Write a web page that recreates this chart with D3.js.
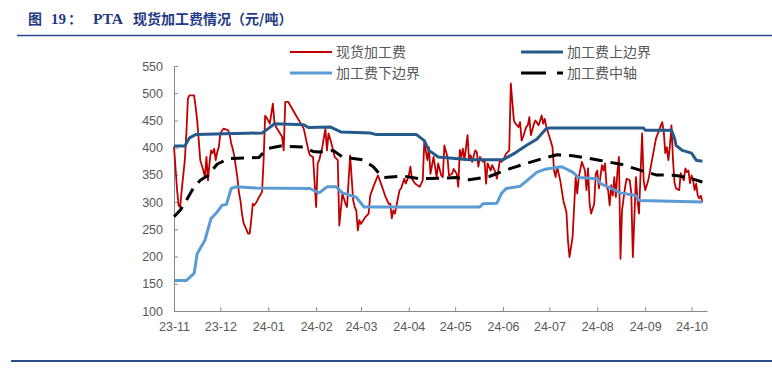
<!DOCTYPE html>
<html>
<head>
<meta charset="utf-8">
<script src="https://cdn.jsdelivr.net/npm/d3@7"></script>
<style>
  body { margin: 0; background: #fff; }
  svg { display: block; }
</style>
</head>
<body>
<div id="chart"></div>
<script>
// series names, same order as the legend
const seriesNames = ["现货加工费", "加工费上边界", "加工费下边界", "加工费中轴"];

// spot processing fee (yuan/ton)
const spotDates = ["2023-11-01","2023-11-03","2023-11-04","2023-11-05","2023-11-06","2023-11-08","2023-11-09","2023-11-10","2023-11-11","2023-11-14","2023-11-15","2023-11-16","2023-11-17","2023-11-18","2023-11-20","2023-11-21","2023-11-22","2023-11-23","2023-11-24","2023-11-25","2023-11-26","2023-11-27","2023-11-28","2023-11-29","2023-11-30",
  "2023-12-01","2023-12-03","2023-12-05","2023-12-06","2023-12-07","2023-12-08","2023-12-09","2023-12-10","2023-12-11","2023-12-12","2023-12-13","2023-12-14","2023-12-15","2023-12-16","2023-12-19","2023-12-20","2023-12-21","2023-12-22","2023-12-23","2023-12-25","2023-12-26","2023-12-28","2023-12-29","2023-12-30",
  "2024-01-01","2024-01-02","2024-01-04","2024-01-05","2024-01-06","2024-01-10","2024-01-11","2024-01-12","2024-01-14","2024-01-19","2024-01-24","2024-01-27","2024-01-28","2024-01-30",
  "2024-02-01","2024-02-02","2024-02-03","2024-02-05","2024-02-07","2024-02-08","2024-02-09","2024-02-11","2024-02-13","2024-02-15","2024-02-16","2024-02-18","2024-02-20","2024-02-21","2024-02-23","2024-02-25","2024-02-26","2024-02-27","2024-02-28","2024-02-29",
  "2024-03-01","2024-03-04","2024-03-06","2024-03-07","2024-03-09","2024-03-12","2024-03-14","2024-03-17","2024-03-19","2024-03-20","2024-03-21","2024-03-22","2024-03-23","2024-03-26","2024-03-27","2024-03-29","2024-03-30",
  "2024-04-01","2024-04-02","2024-04-03","2024-04-05","2024-04-08","2024-04-10","2024-04-11","2024-04-13","2024-04-14","2024-04-15","2024-04-17","2024-04-19","2024-04-20","2024-04-22","2024-04-23","2024-04-24","2024-04-26","2024-04-27","2024-04-29","2024-04-30",
  "2024-05-02","2024-05-03","2024-05-04","2024-05-05","2024-05-06","2024-05-07","2024-05-09","2024-05-10","2024-05-11","2024-05-12","2024-05-14","2024-05-15","2024-05-16","2024-05-17","2024-05-19","2024-05-20","2024-05-21","2024-05-22","2024-05-24","2024-05-25","2024-05-27","2024-05-28","2024-05-30","2024-05-31",
  "2024-06-01","2024-06-03","2024-06-05","2024-06-06","2024-06-08","2024-06-09","2024-06-11","2024-06-12","2024-06-13","2024-06-14","2024-06-16","2024-06-17","2024-06-18","2024-06-19","2024-06-21","2024-06-22","2024-06-24","2024-06-25","2024-06-26","2024-06-27","2024-06-28","2024-06-29",
  "2024-07-01","2024-07-03","2024-07-04","2024-07-05","2024-07-06","2024-07-08","2024-07-10","2024-07-12","2024-07-13","2024-07-14","2024-07-16","2024-07-18","2024-07-19","2024-07-20","2024-07-22","2024-07-24","2024-07-25","2024-07-26","2024-07-27","2024-07-28","2024-07-30","2024-07-31",
  "2024-08-01","2024-08-02","2024-08-04","2024-08-05","2024-08-06","2024-08-07","2024-08-08","2024-08-09","2024-08-10","2024-08-11","2024-08-12","2024-08-13","2024-08-14","2024-08-15","2024-08-16","2024-08-17","2024-08-19","2024-08-20","2024-08-22","2024-08-23","2024-08-24","2024-08-26","2024-08-27","2024-08-28","2024-08-30","2024-08-31",
  "2024-09-01","2024-09-03","2024-09-05","2024-09-08","2024-09-12","2024-09-13","2024-09-14","2024-09-15","2024-09-16","2024-09-17","2024-09-18","2024-09-19","2024-09-20","2024-09-21","2024-09-23","2024-09-24","2024-09-26","2024-09-27","2024-09-28","2024-09-29","2024-09-30",
  "2024-10-01","2024-10-02","2024-10-03","2024-10-04","2024-10-05","2024-10-06","2024-10-07","2024-10-08"];
const spotValues = [402,322,294,291,322,377,426,490,496,496,475,450,414,377,358,346,383,340,372,395,390,398,377,392,401,
  426,435,433,432,425,408,398,385,365,346,318,303,279,262,242,242,267,297,294,303,309,319,377,459,
  450,444,481,447,438,420,395,484,484,459,435,395,386,383,
  291,371,377,401,435,395,426,407,383,377,257,316,297,291,386,303,291,285,248,267,
  260,273,279,312,328,349,334,309,297,297,270,285,279,322,325,343,334,
  349,365,343,334,328,340,410,377,401,352,383,346,371,349,346,404,383,349,352,361,
  352,328,396,383,398,377,423,377,386,374,395,392,365,383,374,377,334,371,358,368,355,343,377,374,
  377,389,395,518,450,444,438,447,413,420,438,441,456,423,444,450,441,450,459,444,453,438,
  420,401,358,346,365,340,303,282,230,199,236,346,316,346,374,358,322,362,297,279,297,352,
  358,325,368,358,371,328,322,294,331,312,346,309,355,383,196,285,328,343,340,316,199,346,303,279,426,340,
  322,340,371,417,447,430,390,401,377,404,441,377,335,325,322,353,340,362,355,358,335,
  349,340,322,334,312,307,312,300];

// upper bound
const upperDates = ["2023-11-01","2023-11-08","2023-11-11","2023-11-15","2023-12-28","2024-01-01","2024-01-05","2024-01-24","2024-01-27","2024-02-10","2024-02-17","2024-03-07","2024-03-11","2024-04-06","2024-04-11","2024-04-14","2024-04-20","2024-05-10","2024-06-01","2024-06-08","2024-06-16","2024-06-23","2024-06-29","2024-07-01","2024-08-31","2024-09-01","2024-09-18","2024-09-20","2024-09-21","2024-09-25","2024-10-01","2024-10-04","2024-10-08"];
const upperValues = [403,403,418,424,427,435,444,442,437,438,429,427,424,424,413,395,383,378,378,389,404,416,435,436,436,432,432,417,404,395,390,377,375];

// lower bound
const lowerDates = ["2023-11-01","2023-11-09","2023-11-14","2023-11-16","2023-11-21","2023-11-25","2023-11-29","2023-12-02","2023-12-05","2023-12-08","2023-12-11","2023-12-24","2024-01-28","2024-02-03","2024-02-08","2024-02-14","2024-02-18","2024-02-27","2024-03-03","2024-05-17","2024-05-19","2024-05-28","2024-05-31","2024-06-03","2024-06-12","2024-06-23","2024-06-29","2024-07-09","2024-07-16","2024-07-20","2024-08-01","2024-08-03","2024-08-08","2024-08-11","2024-08-16","2024-08-26","2024-08-28","2024-10-08"];
const lowerValues = [156,156,169,205,230,270,282,294,296,325,328,326,325,317,328,328,317,309,291,291,297,298,316,325,329,355,361,365,355,345,343,334,328,324,317,312,303,300];

// middle axis
const midDates = ["2023-11-01","2023-11-05","2023-11-08","2023-11-14","2023-11-18","2023-11-23","2023-11-29","2023-12-07","2023-12-26","2023-12-31","2024-01-09","2024-01-24","2024-01-30","2024-02-03","2024-02-12","2024-02-18","2024-03-02","2024-03-09","2024-03-15","2024-03-28","2024-04-08","2024-05-02","2024-05-10","2024-05-23","2024-06-05","2024-06-16","2024-06-29","2024-07-06","2024-07-16","2024-07-25","2024-08-04","2024-08-17","2024-08-26","2024-09-08","2024-09-21","2024-09-30","2024-10-08"];
const midValues = [273,285,298,328,340,349,370,380,382,398,403,401,393,392,395,383,378,365,345,348,343,345,341,347,361,371,382,387,385,381,376,369,361,350,349,344,337];

// axis ticks
const monthTicks = ["2023-11-01","2023-12-01","2024-01-01","2024-02-01","2024-03-01","2024-04-01","2024-05-01","2024-06-01","2024-07-01","2024-08-01","2024-09-01","2024-10-01"];
const monthLabels = ["23-11","23-12","24-01","24-02","24-03","24-04","24-05","24-06","24-07","24-08","24-09","24-10"];
const yTicks = [100,150,200,250,300,350,400,450,500,550];

const parse = d3.timeParse("%Y-%m-%d");
const zip = (ds, vs) => ds.map((d, i) => ({date: parse(d), value: vs[i]}));

const series = [
  {name: seriesNames[0], data: zip(spotDates, spotValues), color: "#c00000", width: 1.8, dash: null},
  {name: seriesNames[1], data: zip(upperDates, upperValues), color: "#245a8c", width: 3, dash: null},
  {name: seriesNames[2], data: zip(lowerDates, lowerValues), color: "#5b9bd5", width: 3, dash: null},
  {name: seriesNames[3], data: zip(midDates, midValues), color: "#000000", width: 3, dash: "13,8"}
];

const width = 772, height = 369;
const svg = d3.select("#chart").append("svg")
  .attr("width", width)
  .attr("height", height);

// title + rules
const title = svg.append("text")
  .attr("y", 24)
  .attr("fill", "#1f3b85")
  .attr("font-weight", "bold")
  .attr("font-size", 14);
title.append("tspan").attr("x", 28).attr("font-family", "Noto Sans CJK SC").text("图");
title.append("tspan").attr("x", 51).attr("font-family", "Liberation Serif").attr("font-size", 15).text("19");
title.append("tspan").attr("x", 68).attr("font-family", "Noto Sans CJK SC").text("：");
title.append("tspan").attr("x", 93).attr("font-family", "Liberation Serif").attr("font-size", 15.5).text("PTA");
title.append("tspan").attr("x", 133).attr("font-family", "Noto Sans CJK SC").text("现货加工费情况（元/吨）");

svg.append("line")
  .attr("x1", 17).attr("x2", 772).attr("y1", 35.5).attr("y2", 35.5)
  .attr("stroke", "#2a4a8a").attr("stroke-width", 1.5);
svg.append("line")
  .attr("x1", 11).attr("x2", 772).attr("y1", 361).attr("y2", 361)
  .attr("stroke", "#2f4d8a").attr("stroke-width", 2);

// scales
const x = d3.scaleTime()
  .domain([parse("2023-11-01"), parse("2024-10-11")])
  .range([174, 707]);
const y = d3.scaleLinear()
  .domain([100, 550])
  .range([311, 66]);

// axes
const axisColor = "#898989", labelColor = "#595959";

const gx = svg.append("g")
  .attr("transform", "translate(0,311)")
  .call(d3.axisBottom(x)
    .tickValues(monthTicks.map(parse))
    .tickFormat((d, i) => monthLabels[i])
    .tickSizeInner(-4)
    .tickSizeOuter(0)
    .tickPadding(11));

const gy = svg.append("g")
  .attr("transform", "translate(174,0)")
  .call(d3.axisLeft(y)
    .tickValues(yTicks)
    .tickSizeInner(-4)
    .tickSizeOuter(0)
    .tickPadding(11));

[gx, gy].forEach(g => {
  g.select(".domain").attr("stroke", axisColor);
  g.selectAll(".tick line").attr("stroke", axisColor);
  g.selectAll(".tick text")
    .attr("fill", labelColor)
    .attr("font-family", "Liberation Sans, Arial, sans-serif")
    .attr("font-size", 12.5);
});

// lines
const line = d3.line()
  .x(d => x(d.date))
  .y(d => y(d.value));

svg.append("g")
  .attr("fill", "none")
  .selectAll("path")
  .data(series)
  .join("path")
  .attr("d", d => line(d.data))
  .attr("stroke", d => d.color)
  .attr("stroke-width", d => d.width)
  .attr("stroke-dasharray", d => d.dash)
  .attr("stroke-linejoin", "round");

// legend
const legendPos = [[290, 52], [521, 52], [290, 73], [521, 73]];
const legend = svg.append("g")
  .selectAll("g")
  .data(series)
  .join("g")
  .attr("transform", (d, i) => `translate(${legendPos[i][0]},${legendPos[i][1]})`);

legend.append("line")
  .attr("x1", 0).attr("x2", 42)
  .attr("stroke", d => d.color)
  .attr("stroke-width", d => d.width)
  .attr("stroke-dasharray", d => d.dash ? "25,11" : null);

legend.append("text")
  .attr("x", 46)
  .attr("dy", "0.35em")
  .attr("fill", labelColor)
  .attr("font-family", "Noto Sans CJK SC")
  .attr("font-size", 14)
  .text(d => d.name);
</script>
</body>
</html>
